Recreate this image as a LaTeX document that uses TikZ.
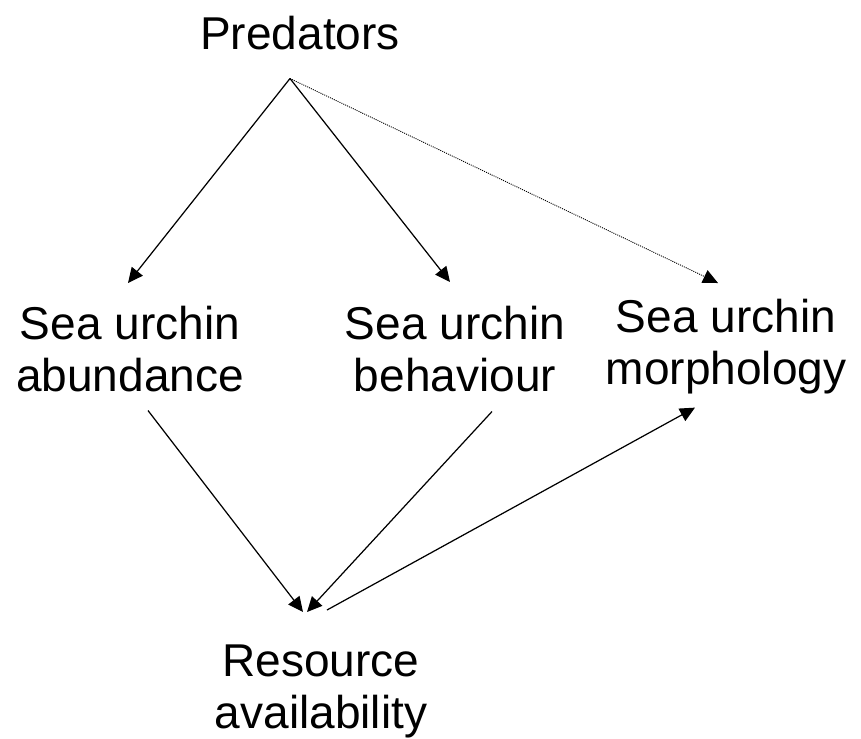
\documentclass[tikz,border=0pt]{standalone}
\usepackage{fontspec}
\setmainfont{Liberation Sans}
\usepackage{tikz}
\usetikzlibrary{
    positioning,
    calc,
    arrows.meta
}
\tikzset{
  basic/.style = {
      font=\fontsize{26.2}{29.6}\selectfont,
      align=center,
      anchor=north,
      inner sep=0pt
  },
  link/.style = {
      line width=0.7pt,
      -{Triangle[length=0.3cm,width=0.28cm]}
  },
  weak/.style = {
      link,
      line width=0.5pt,
      dash pattern=on 0.6pt off 0.6pt
  }
}
\begin{document}
\begin{tikzpicture}[x=0.02cm, y=-0.02cm]
        \useasboundingbox (0,0) rectangle (861,738);
        \node[basic] (pred) at (300,16) {Predators};
        \node[basic] (abund) at (130,306) {Sea urchin\\abundance};
        \node[basic] (behav) at (455,306) {Sea urchin\\behaviour};
        \node[basic] (morph) at (726,299) {Sea urchin\\morphology};
        \node[basic] (res) at (321,644) {Resource\\availability};
        % Edges
        \draw[link] ($(pred.south)+(-10,28)$) -- ($(abund.north)+(-2,-23)$);
        \draw[link] ($(pred.south)+(-10,28)$) -- ($(behav.north)+(-5,-24)$);
        \draw[weak] ($(pred.south)+(-10,28)$) -- ($(morph.north)+(-8,-16)$);
        \draw[link] ($(abund.south)+(18,18)$) -- ($(res.north)+(-18,-32)$);
        \draw[link] ($(behav.south)+(37,19)$) -- ($(res.north)+(-14,-32)$);
        \draw[link] ($(res.north)+(6,-34)$) -- ($(morph.south)+(-31,13)$);
    \end{tikzpicture}
\end{document}
